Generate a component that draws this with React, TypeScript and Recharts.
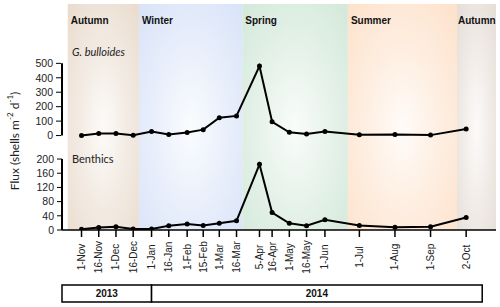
import { ComposedChart, LineChart, Line, XAxis, YAxis, ReferenceArea, ReferenceLine, ReferenceDot } from "recharts";

// sampling dates of the sediment trap cups
const sampleDates = [
  "2013-11-01", "2013-11-16", "2013-12-01", "2013-12-16", "2014-01-01", "2014-01-16",
  "2014-02-01", "2014-02-15", "2014-03-01", "2014-03-16", "2014-04-05", "2014-04-16",
  "2014-05-01", "2014-05-16", "2014-06-01", "2014-07-01", "2014-08-01", "2014-09-01", "2014-10-02",
];
const dateLabels = [
  "1-Nov", "16-Nov", "1-Dec", "16-Dec", "1-Jan", "16-Jan", "1-Feb", "15-Feb", "1-Mar", "16-Mar",
  "5-Apr", "16-Apr", "1-May", "16-May", "1-Jun", "1-Jul", "1-Aug", "1-Sep", "2-Oct",
];
const bulloidesFlux = [0, 14, 14, 2, 28, 7, 21, 41, 124, 136, 481, 95, 23, 10, 28, 5, 8, 3, 46];
const benthicsFlux = [2, 7, 9, 3, 3, 12, 17, 13, 19, 26, 185, 49, 19, 12, 29, 13, 8, 9, 35];

const bulloidesTicks = [0, 100, 200, 300, 400, 500];
const benthicsTicks = [0, 40, 80, 120, 160, 200];

const seasonNames = ["Autumn", "Winter", "Spring", "Summer", "Autumn"];
const seasonStarts = ["2013-10-20", "2013-12-21", "2014-03-21", "2014-06-21", "2014-09-24"];
const seasonColors = ["#e9dbcd", "#d8e3f8", "#d2e8d9", "#fde1ca", "#e5ddd6"];

const yearLabels = ["2013", "2014"];
const yearStarts = ["2013-10-15", "2014-01-01"];
const yearEnd = "2014-10-16";

const axisStart = "2013-10-15";
const axisEnd = "2014-10-28";

const dayOf = (iso: string) => (Date.parse(iso) - Date.parse("2013-11-01")) / 86400000;

const data = sampleDates.map((d, i) => ({
  day: dayOf(d),
  label: dateLabels[i],
  bulloides: bulloidesFlux[i],
  benthics: benthicsFlux[i],
}));
const labelByDay: Record<number, string> = {};
data.forEach((d) => (labelByDay[d.day] = d.label));

const xMin = dayOf(axisStart);
const xMax = dayOf(axisEnd);

const ARIAL = "'Liberation Sans', Arial, sans-serif";
const CALIBRI = "Lato, 'Open Sans', sans-serif";

const DateTick = ({ x, y, payload }: any) => (
  <text
    x={x}
    y={y + 18}
    transform={`rotate(-90 ${x} ${y + 18})`}
    textAnchor="middle"
    dy="0.35em"
    fontSize={10}
    fontFamily={ARIAL}
    fill="#222"
  >
    {labelByDay[payload.value]}
  </text>
);

const FluxTitle = ({ viewBox }: any) => {
  const cx = viewBox.x - 8;
  const cy = viewBox.y + viewBox.height / 2 + 24;
  return (
    <text
      x={cx}
      y={cy}
      transform={`rotate(-90 ${cx} ${cy})`}
      textAnchor="middle"
      dominantBaseline="central"
      fontSize={12}
      fontFamily={CALIBRI}
      fill="#222"
    >
      Flux (shells m<tspan dy={-4} fontSize={8}>-2</tspan>
      <tspan dy={4}> d</tspan>
      <tspan dy={-4} fontSize={8}>-1</tspan>
      <tspan dy={4}>)</tspan>
    </text>
  );
};

const yTick = { fontSize: 10.5, fill: "#222", fontFamily: ARIAL };
const dotStyle = { r: 2.5, fill: "#000", stroke: "#000", strokeWidth: 0 };

export default function App() {
  return (
    <div style={{ position: "absolute", left: 0, top: 0, width: 500, height: 307, background: "#fff" }}>
      <LineChart width={500} height={284} data={data} margin={{ top: 4, right: 4, bottom: 4, left: 22 }}>
        <defs>
          {seasonColors.map((c, i) => (
            <radialGradient key={i} id={`season${i}`} cx="50%" cy="55%" r="75%">
              <stop offset="0%" stopColor={c} stopOpacity={0.12} />
              <stop offset="45%" stopColor={c} stopOpacity={0.55} />
              <stop offset="100%" stopColor={c} stopOpacity={1} />
            </radialGradient>
          ))}
        </defs>
        <XAxis
          type="number"
          dataKey="day"
          domain={[xMin, xMax]}
          ticks={data.map((d) => d.day)}
          interval={0}
          tick={<DateTick />}
          tickSize={7}
          height={50}
          stroke="#000"
          strokeWidth={1.5}
          allowDataOverflow
        />
        <YAxis
          yAxisId="b"
          width={1}
          domain={[0, 637]}
          ticks={benthicsTicks}
          interval={0}
          axisLine={false}
          tickSize={5}
          tickMargin={3}
          tick={yTick}
          stroke="#000"
          allowDataOverflow
        />
        <YAxis
          yAxisId="g"
          width={39}
          domain={[-654, 911]}
          ticks={bulloidesTicks}
          interval={0}
          axisLine={false}
          tickSize={5}
          tickMargin={3}
          tick={yTick}
          stroke="#000"
          allowDataOverflow
          label={{ content: <FluxTitle /> }}
        />
        {seasonNames.map((name, i) => (
          <ReferenceArea
            key={i}
            yAxisId="b"
            x1={dayOf(seasonStarts[i])}
            x2={i + 1 < seasonStarts.length ? dayOf(seasonStarts[i + 1]) : xMax}
            fill={`url(#season${i})`}
            fillOpacity={1}
            stroke="none"
            ifOverflow="visible"
            label={{
              content: (p: any) => (
                <text
                  x={p.viewBox.x + (i === 4 ? 1 : 3)}
                  y={p.viewBox.y + 20}
                  fontSize={10}
                  fontWeight="bold"
                  fontFamily={ARIAL}
                  fill="#111"
                >
                  {name}
                </text>
              ),
            }}
          />
        ))}
        <ReferenceLine
          yAxisId="g"
          segment={[{ x: xMin, y: 0 }, { x: xMin, y: 500 }]}
          stroke="#000"
          strokeWidth={2}
          ifOverflow="visible"
        />
        <ReferenceLine
          yAxisId="b"
          segment={[{ x: xMin, y: 0 }, { x: xMin, y: 200 }]}
          stroke="#000"
          strokeWidth={2}
          ifOverflow="visible"
        />
        <ReferenceDot
          yAxisId="g"
          x={xMin}
          y={580}
          r={0}
          stroke="none"
          fill="none"
          ifOverflow="visible"
          label={{ value: "G. bulloides", position: "right", offset: 10, fontSize: 11, fontStyle: "italic", fontFamily: CALIBRI, fill: "#222" }}
        />
        <ReferenceDot
          yAxisId="b"
          x={xMin}
          y={200}
          r={0}
          stroke="none"
          fill="none"
          ifOverflow="visible"
          label={{ value: "Benthics", position: "right", offset: 10, fontSize: 11, fontFamily: CALIBRI, fill: "#222" }}
        />
        <Line
          yAxisId="g"
          type="linear"
          dataKey="bulloides"
          stroke="#000"
          strokeWidth={2}
          dot={dotStyle}
          activeDot={false}
          isAnimationActive={false}
        />
        <Line
          yAxisId="b"
          type="linear"
          dataKey="benthics"
          stroke="#000"
          strokeWidth={2}
          dot={dotStyle}
          activeDot={false}
          isAnimationActive={false}
        />
      </LineChart>
      <div style={{ position: "absolute", left: 0, top: 283, width: 500, height: 21 }}>
        <ComposedChart width={500} height={21} data={data} margin={{ top: 2, right: 4, bottom: 2, left: 62 }}>
          <XAxis type="number" dataKey="day" domain={[xMin, xMax]} hide allowDataOverflow />
          <YAxis hide domain={[0, 1]} allowDataOverflow />
          {yearLabels.map((yr, i) => (
            <ReferenceArea
              key={yr}
              x1={dayOf(yearStarts[i])}
              x2={i + 1 < yearStarts.length ? dayOf(yearStarts[i + 1]) : dayOf(yearEnd)}
              y1={0}
              y2={1}
              fill="#fff"
              fillOpacity={1}
              stroke="#000"
              strokeWidth={1.5}
              ifOverflow="visible"
              label={{ value: yr, position: "center", fontSize: 10, fontWeight: "bold", fontFamily: ARIAL, fill: "#111" }}
            />
          ))}
        </ComposedChart>
      </div>
    </div>
  );
}
